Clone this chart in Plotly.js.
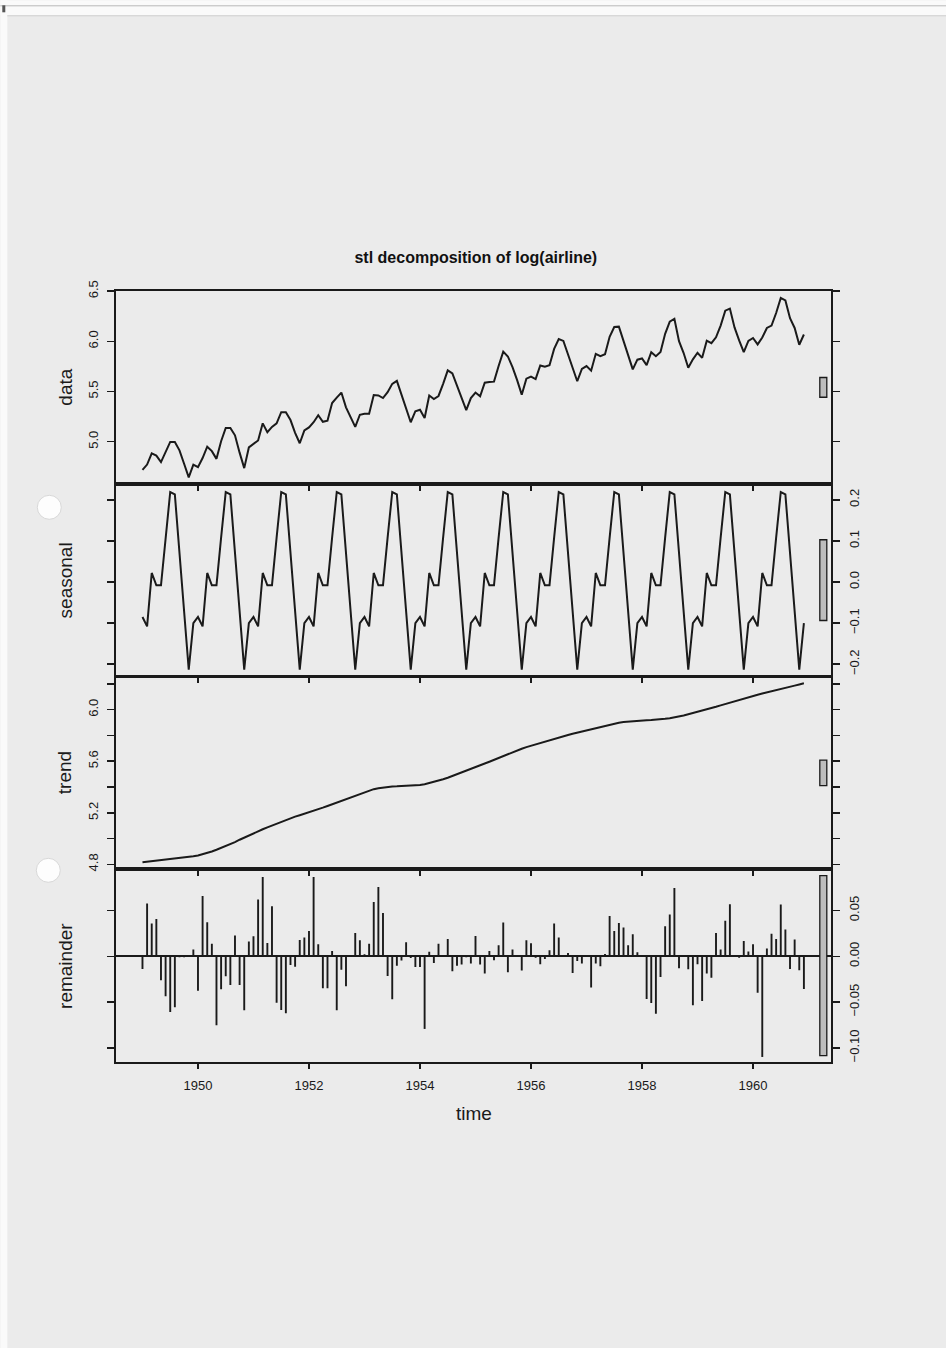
<!DOCTYPE html>
<html><head><meta charset="utf-8">
<script src="https://cdn.plot.ly/plotly-3.0.1.min.js"></script>
<style>html,body{margin:0;padding:0;background:#ebebeb;}#chart{width:946px;height:1348px;}</style>
</head><body><div id="chart"></div>
<script>
// ---- data: stl decomposition of log(airline), monthly 1949-1960 ----
const startYear = 1949;
const frequency = 12;

const dataLog = [
 4.718,4.771,4.883,4.860,4.796,4.905,4.997,4.997,4.913,4.779,4.644,4.771,
 4.745,4.836,4.949,4.905,4.828,5.004,5.136,5.136,5.063,4.890,4.736,4.942,
 4.977,5.011,5.182,5.094,5.147,5.182,5.293,5.293,5.215,5.088,4.984,5.112,
 5.142,5.193,5.263,5.198,5.209,5.384,5.438,5.489,5.342,5.252,5.147,5.268,
 5.278,5.278,5.464,5.460,5.434,5.493,5.576,5.606,5.468,5.352,5.193,5.303,
 5.318,5.236,5.460,5.425,5.455,5.576,5.710,5.680,5.557,5.434,5.313,5.434,
 5.489,5.451,5.587,5.595,5.598,5.753,5.897,5.849,5.743,5.613,5.468,5.628,
 5.649,5.624,5.759,5.746,5.762,5.924,6.023,6.004,5.872,5.724,5.602,5.724,
 5.753,5.707,5.875,5.852,5.872,6.045,6.142,6.146,6.001,5.849,5.720,5.817,
 5.829,5.762,5.892,5.852,5.894,6.075,6.196,6.225,6.001,5.883,5.737,5.820,
 5.886,5.835,6.006,5.981,6.040,6.157,6.306,6.326,6.138,6.009,5.892,6.004,
 6.033,5.969,6.038,6.133,6.157,6.282,6.433,6.407,6.230,6.133,5.966,6.068
];

const seasonal = [
 -0.085,-0.108,0.022,-0.008,-0.008,0.108,0.219,0.213,0.066,-0.072,-0.213,-0.100,
 -0.085,-0.108,0.022,-0.008,-0.008,0.108,0.219,0.213,0.066,-0.072,-0.213,-0.100,
 -0.085,-0.108,0.022,-0.008,-0.008,0.108,0.219,0.213,0.066,-0.072,-0.213,-0.100,
 -0.085,-0.108,0.022,-0.008,-0.008,0.108,0.219,0.213,0.066,-0.072,-0.213,-0.100,
 -0.085,-0.108,0.022,-0.008,-0.008,0.108,0.219,0.213,0.066,-0.072,-0.213,-0.100,
 -0.085,-0.108,0.022,-0.008,-0.008,0.108,0.219,0.213,0.066,-0.072,-0.213,-0.100,
 -0.085,-0.108,0.022,-0.008,-0.008,0.108,0.219,0.213,0.066,-0.072,-0.213,-0.100,
 -0.085,-0.108,0.022,-0.008,-0.008,0.108,0.219,0.213,0.066,-0.072,-0.213,-0.100,
 -0.085,-0.108,0.022,-0.008,-0.008,0.108,0.219,0.213,0.066,-0.072,-0.213,-0.100,
 -0.085,-0.108,0.022,-0.008,-0.008,0.108,0.219,0.213,0.066,-0.072,-0.213,-0.100,
 -0.085,-0.108,0.022,-0.008,-0.008,0.108,0.219,0.213,0.066,-0.072,-0.213,-0.100,
 -0.085,-0.108,0.022,-0.008,-0.008,0.108,0.219,0.213,0.066,-0.072,-0.213,-0.100
];

const trend = [
 4.817,4.821,4.824,4.827,4.831,4.835,4.838,4.842,4.847,4.852,4.857,4.863,
 4.869,4.878,4.889,4.900,4.913,4.927,4.941,4.956,4.973,4.991,5.008,5.025,
 5.041,5.057,5.072,5.087,5.101,5.116,5.131,5.145,5.158,5.170,5.181,5.192,
 5.202,5.214,5.227,5.240,5.253,5.266,5.280,5.293,5.308,5.322,5.336,5.350,
 5.362,5.373,5.383,5.391,5.397,5.401,5.404,5.405,5.407,5.408,5.410,5.413,
 5.416,5.422,5.430,5.439,5.449,5.460,5.472,5.485,5.499,5.513,5.527,5.541,
 5.554,5.568,5.582,5.596,5.611,5.626,5.640,5.655,5.670,5.684,5.697,5.709,
 5.720,5.732,5.743,5.753,5.763,5.773,5.783,5.793,5.803,5.813,5.822,5.831,
 5.839,5.848,5.858,5.868,5.877,5.886,5.893,5.899,5.904,5.908,5.911,5.914,
 5.916,5.918,5.920,5.922,5.925,5.929,5.934,5.940,5.947,5.955,5.964,5.973,
 5.982,5.992,6.002,6.012,6.022,6.033,6.044,6.055,6.066,6.077,6.088,6.098,
 6.107,6.116,6.125,6.133,6.141,6.150,6.159,6.168,6.177,6.186,6.195,6.204
];

const remainder = [
 -0.0138,0.0575,0.0357,0.0408,-0.0262,-0.0437,-0.0608,-0.0557,-0.0010,-0.0010,0.0015,0.0073,
 -0.0375,0.0659,0.0371,0.0138,-0.0753,-0.0360,-0.0218,-0.0313,0.0226,-0.0313,-0.0590,0.0160,
 0.0218,0.0619,0.0866,0.0146,0.0546,-0.0506,-0.0586,-0.0622,-0.0095,-0.0113,0.0178,0.0204,
 0.0277,0.0866,0.0131,-0.0349,-0.0349,0.0058,-0.0590,-0.0146,-0.0328,0.0007,0.0255,0.0175,
 0.0022,0.0138,0.0593,0.0757,0.0473,-0.0215,-0.0469,-0.0102,-0.0047,0.0153,-0.0020,-0.0116,
 -0.0116,-0.0793,0.0050,-0.0073,0.0138,0.0010,0.0189,-0.0164,-0.0102,-0.0091,-0.0010,-0.0080,
 0.0222,-0.0091,-0.0189,0.0058,-0.0044,0.0120,0.0368,-0.0175,0.0073,-0.0007,-0.0156,0.0175,
 0.0142,-0.0015,-0.0087,-0.0029,0.0066,0.0357,0.0204,0.0000,0.0036,-0.0182,-0.0051,-0.0080,
 0.0000,-0.0342,-0.0080,-0.0109,0.0025,0.0440,0.0277,0.0364,0.0313,0.0120,0.0240,0.0044,
 0.0015,-0.0466,-0.0509,-0.0626,-0.0226,0.0328,0.0455,0.0746,-0.0131,-0.0007,-0.0142,-0.0535,
 -0.0087,-0.0488,-0.0189,-0.0233,0.0255,0.0073,0.0389,0.0568,0.0007,-0.0015,0.0167,0.0051,
 0.0131,-0.0397,-0.1099,0.0084,0.0247,0.0189,0.0564,0.0291,-0.0138,0.0182,-0.0153,-0.0357
];

const panelNames = ['data', 'seasonal', 'trend', 'remainder'];
const titleText = 'stl decomposition of log(airline)';
const xTitle = 'time';
const xTickVals = [1950, 1952, 1954, 1956, 1958, 1960];
const xTickText = ['1950', '1952', '1954', '1956', '1958', '1960'];
const dataTickVals = [5.0, 5.5, 6.0, 6.5];
const dataTickText = ['5.0', '5.5', '6.0', '6.5'];
const seasTickVals = [-0.2, -0.1, 0.0, 0.1, 0.2];
const seasTickText = ['\u22120.2', '\u22120.1', '0.0', '0.1', '0.2'];
const trendTickVals = [4.8, 5.0, 5.2, 5.4, 5.6, 5.8, 6.0, 6.2];
const trendTickText = ['4.8', '', '5.2', '', '5.6', '', '6.0', ''];
const remTickVals = [-0.10, -0.05, 0.00, 0.05];
const remTickText = ['\u22120.10', '\u22120.05', '0.00', '0.05'];

// ---- layout geometry (page pixels) ----
const W = 946, H = 1348;
const L = 115.7, R = 830.7, T = 290.7, B = 1061.7;
const px = x => (x - L) / (R - L);
const py = y => (B - y) / (B - T);

const ink = '#1a1a1a';
const FONT = 'Liberation Sans, Arial, Helvetica, sans-serif';

const time = dataLog.map((_, i) => startYear + i / frequency);
const remX = [], remY = [];
remainder.forEach((v, i) => { remX.push(time[i], time[i], null); remY.push(0, v, null); });

const xRange = [1948.523, 1961.405];
const yRanges = [[4.580, 6.5015], [-0.2299, 0.2391], [4.762, 6.257], [-0.1154, 0.0950]];
const comps = [dataLog, seasonal, trend, remainder];

const lineStyle = {color: ink, width: 2};
const traces = [
  {x: time, y: dataLog, xaxis: 'x', yaxis: 'y', type: 'scatter', mode: 'lines', line: lineStyle, hoverinfo: 'skip'},
  {x: time, y: seasonal, xaxis: 'x2', yaxis: 'y2', type: 'scatter', mode: 'lines', line: lineStyle, hoverinfo: 'skip'},
  {x: time, y: trend, xaxis: 'x3', yaxis: 'y3', type: 'scatter', mode: 'lines', line: lineStyle, hoverinfo: 'skip'},
  {x: remX, y: remY, xaxis: 'x4', yaxis: 'y4', type: 'scatter', mode: 'lines', line: {color: ink, width: 1.9}, connectgaps: false, hoverinfo: 'skip'}
];

const tickFont = {family: FONT, size: 13, color: ink};
function xAxis(n, labels) {
  return {
    domain: [0, 1], range: xRange, anchor: 'y' + (n === 1 ? '' : n),
    tickvals: xTickVals, ticktext: xTickText, showticklabels: labels,
    ticks: 'outside', ticklen: 5, tickwidth: 1.5, tickcolor: ink,
    showline: true, mirror: true, linecolor: ink, linewidth: 1.8,
    showgrid: false, zeroline: false, tickfont: {family: FONT, size: 13, color: ink},
    ticklabelstandoff: 6, fixedrange: true
  };
}
const domains = [[0.75, 1], [0.5, 0.75], [0.25, 0.5], [0, 0.25]];
const tv = [dataTickVals, seasTickVals, trendTickVals, remTickVals];
const tt = [dataTickText, seasTickText, trendTickText, remTickText];
function yAxis(i) {
  return {
    domain: domains[i], range: yRanges[i], anchor: 'x' + (i === 0 ? '' : i + 1),
    side: i % 2 === 1 ? 'right' : 'left',
    tickvals: tv[i], ticktext: tt[i], tickangle: -90,
    ticks: 'outside', ticklen: 7, tickwidth: 1.5, tickcolor: ink,
    showline: true, mirror: 'ticks', linecolor: ink, linewidth: 1.8,
    showgrid: false, zeroline: i === 3, zerolinecolor: ink, zerolinewidth: 1.6,
    tickfont: tickFont, ticklabelstandoff: 4, fixedrange: true
  };
}

const barH = Math.min(...comps.map(c => Math.max(...c) - Math.min(...c)));
const shapes = [
  // scanned page borders
  {type: 'rect', xref: 'paper', yref: 'paper', x0: px(0), x1: px(7), y0: py(H), y1: py(0), fillcolor: '#fafafa', line: {width: 0}, layer: 'below'},
  {type: 'rect', xref: 'paper', yref: 'paper', x0: px(0), x1: px(W), y0: py(15), y1: py(0), fillcolor: '#fafafa', line: {width: 0}, layer: 'below'},
  {type: 'line', xref: 'paper', yref: 'paper', x0: px(0), x1: px(W), y0: py(5.5), y1: py(5.5), line: {color: '#b8b8b8', width: 1}, layer: 'below'},
  {type: 'line', xref: 'paper', yref: 'paper', x0: px(7), x1: px(W), y0: py(15.5), y1: py(15.5), line: {color: '#cfcfcf', width: 1}, layer: 'below'},
  {type: 'rect', xref: 'paper', yref: 'paper', x0: px(2), x1: px(5), y0: py(12), y1: py(5), fillcolor: '#555', line: {width: 0}, layer: 'below'},
  // punched holes
  {type: 'circle', xref: 'paper', yref: 'paper', x0: px(37), x1: px(61), y0: py(519), y1: py(495), fillcolor: '#fdfdfd', line: {color: '#d8d8d8', width: 1}, layer: 'below'},
  {type: 'circle', xref: 'paper', yref: 'paper', x0: px(36), x1: px(60), y0: py(882), y1: py(858), fillcolor: '#fdfdfd', line: {color: '#d8d8d8', width: 1}, layer: 'below'}
];
yRanges.forEach((r, i) => {
  const mid = (r[0] + r[1]) / 2;
  shapes.push({type: 'rect', xref: 'paper', yref: 'y' + (i === 0 ? '' : i + 1),
    x0: px(819.5), x1: px(826.5), y0: mid - barH / 2, y1: mid + barH / 2,
    fillcolor: '#bdbdbd', line: {color: ink, width: 1.3}});
});

const annotations = panelNames.map((name, i) => ({
  text: name, xref: 'paper', yref: 'paper', x: px(65), y: (domains[i][0] + domains[i][1]) / 2,
  xanchor: 'center', yanchor: 'middle', textangle: -90, showarrow: false,
  font: {family: FONT, size: 19, color: ink}
}));
annotations.push({text: xTitle, xref: 'paper', yref: 'paper', x: px(474), y: py(1113),
  xanchor: 'center', yanchor: 'middle', showarrow: false, font: {family: FONT, size: 19, color: ink}});

const layout = {
  width: W, height: H,
  margin: {l: L, r: W - R, t: T, b: H - B, pad: 0},
  paper_bgcolor: '#ebebeb', plot_bgcolor: '#ebebeb',
  showlegend: false,
  title: {text: titleText, xref: 'paper', x: px(475.5), xanchor: 'center',
          yref: 'container', y: 1 - 257 / H, yanchor: 'middle',
          font: {family: FONT, size: 16, weight: 'bold', color: '#111'}},
  xaxis: xAxis(1, false), xaxis2: xAxis(2, false), xaxis3: xAxis(3, false), xaxis4: xAxis(4, true),
  yaxis: yAxis(0), yaxis2: yAxis(1), yaxis3: yAxis(2), yaxis4: yAxis(3),
  shapes: shapes, annotations: annotations
};

Plotly.newPlot('chart', traces, layout, {displayModeBar: false, staticPlot: true});
</script>
</body></html>
